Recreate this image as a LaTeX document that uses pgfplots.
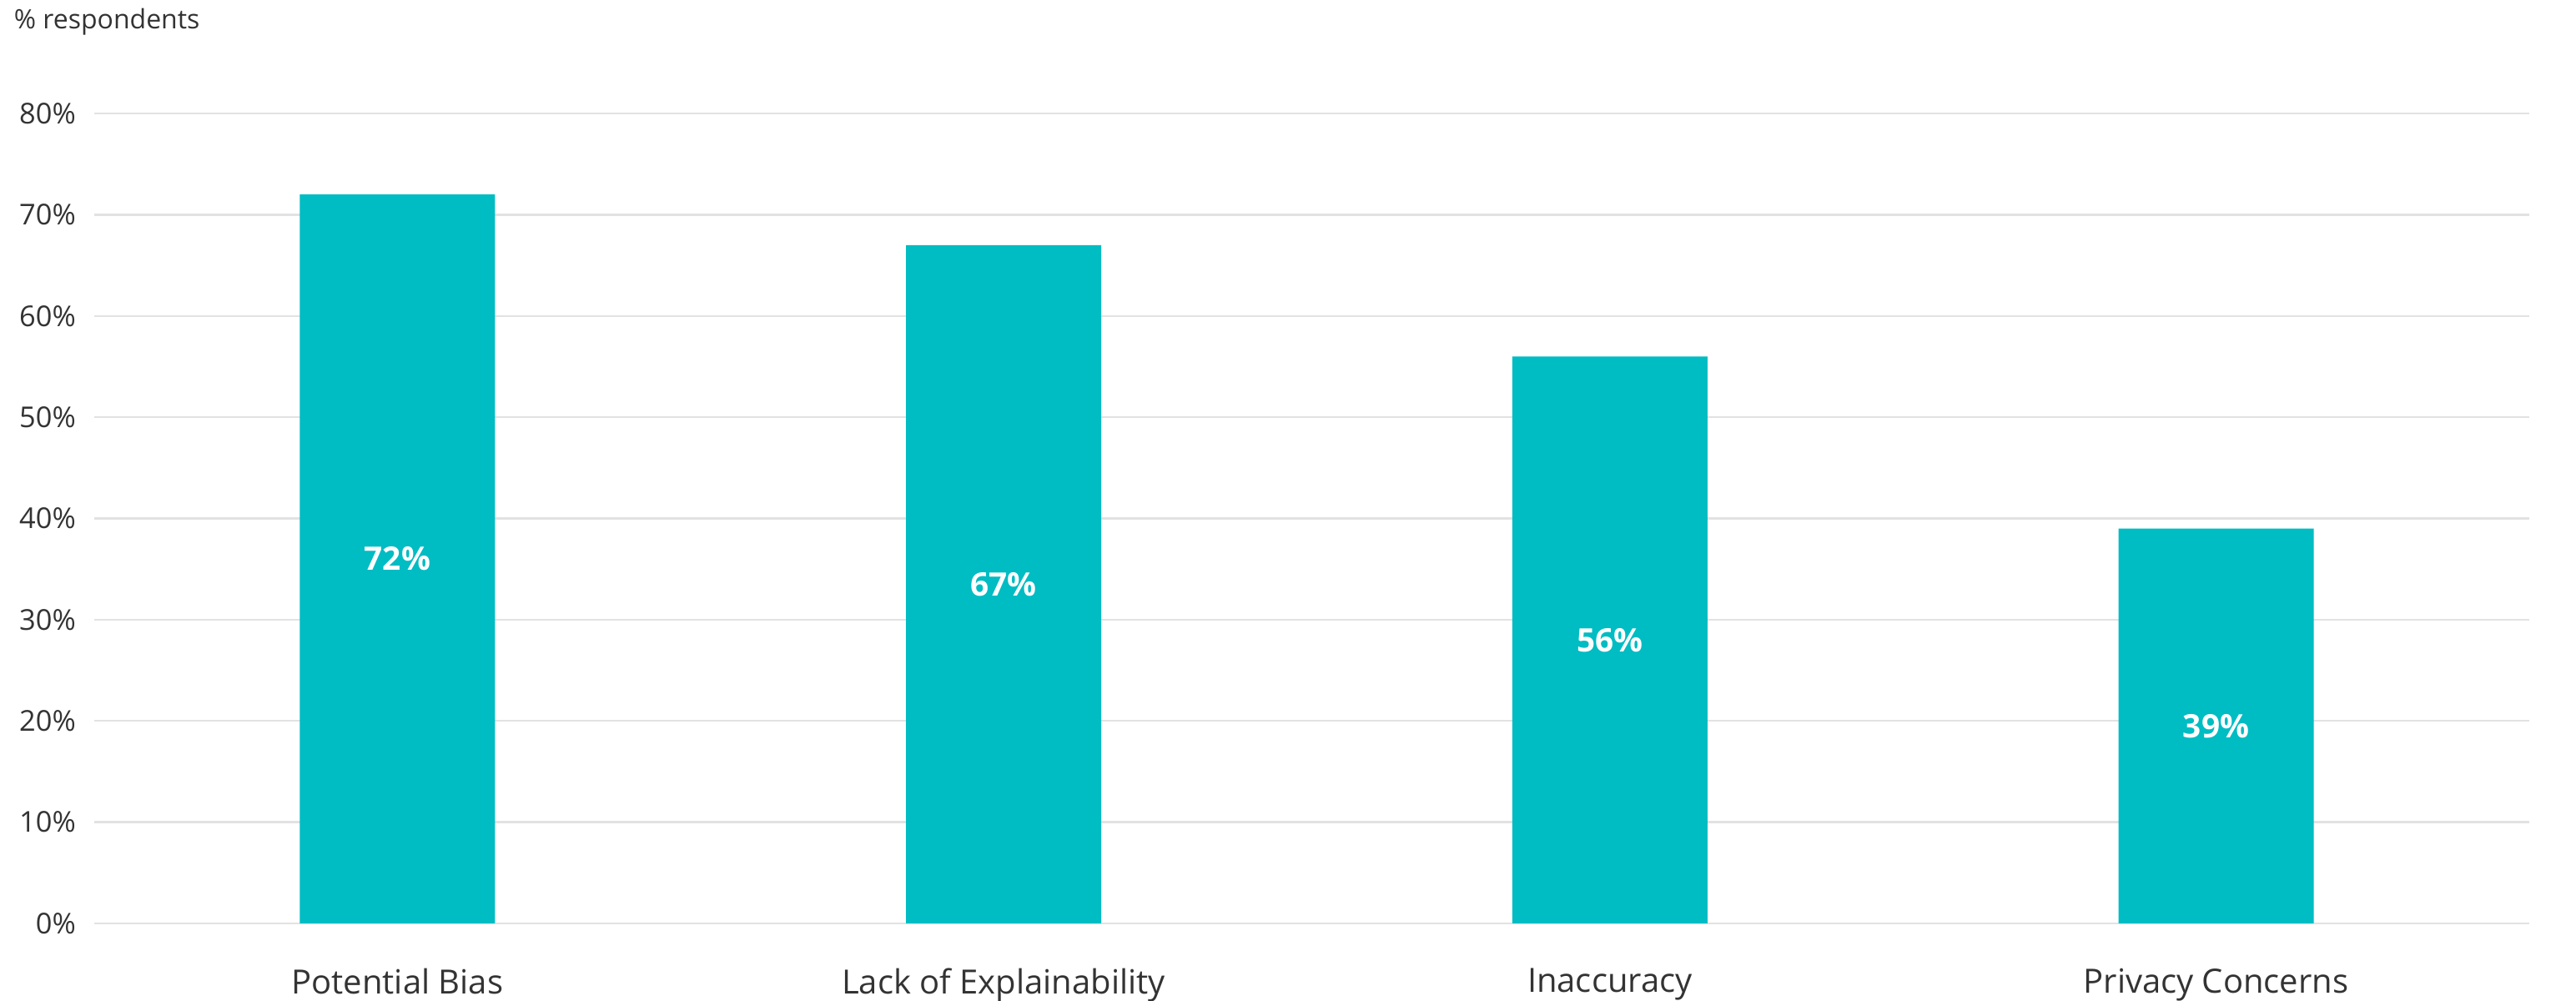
\documentclass[border=0pt]{standalone}
\usepackage{fontspec}
\setmainfont{Open Sans}
\usepackage{pgfplots}
\pgfplotsset{compat=1.18}
\definecolor{barc}{HTML}{00BCC3}
\definecolor{gridc}{HTML}{E2E2E2}
\definecolor{txt}{HTML}{333333}
\begin{document}
\begin{tikzpicture}
\useasboundingbox (-28.25pt,-23.25pt) rectangle (743.75pt,276.75pt);
\begin{axis}[
  at={(0,0)}, anchor=south west,
  scale only axis, width=729.8pt, height=242.75pt,
  xmin=-0.5, xmax=3.517, ymin=0, ymax=80,
  axis line style={draw=none},
  xtick={0,1,2,3},
  xticklabels={Potential Bias, Lack of Explainability, Inaccuracy, Privacy Concerns},
  ytick={0,10,...,80},
  yticklabel={\pgfmathprintnumber{\tick}\%},
  /pgf/number format/assume math mode=true,
  major tick length=0pt,
  ymajorgrids, grid style={gridc, line width=0.6pt},
  xticklabel style={font=\fontsize{10}{11}\selectfont, text=txt, yshift=-10pt},
  yticklabel style={font=\fontsize{8.6}{9}\selectfont, text=txt, xshift=-2pt},
  clip=false,
]
\addplot[ybar, bar width=0.322, fill=barc, draw=none] coordinates {(0,72) (1,67) (2,56) (3,39)};
\addplot[draw=none, mark=none, nodes near coords, point meta=explicit symbolic,
  every node near coord/.style={anchor=center, text=white, font=\fontsize{9.7}{11}\bfseries\selectfont}]
  coordinates {(0,36) [72\%] (1,33.5) [67\%] (2,28) [56\%] (3,19.5) [39\%]};
\end{axis}
\node[anchor=base west, inner sep=0, text=txt, font=\fontsize{8}{9}\selectfont] at (-24.25pt,268pt) {\% respondents};
\end{tikzpicture}
\end{document}
